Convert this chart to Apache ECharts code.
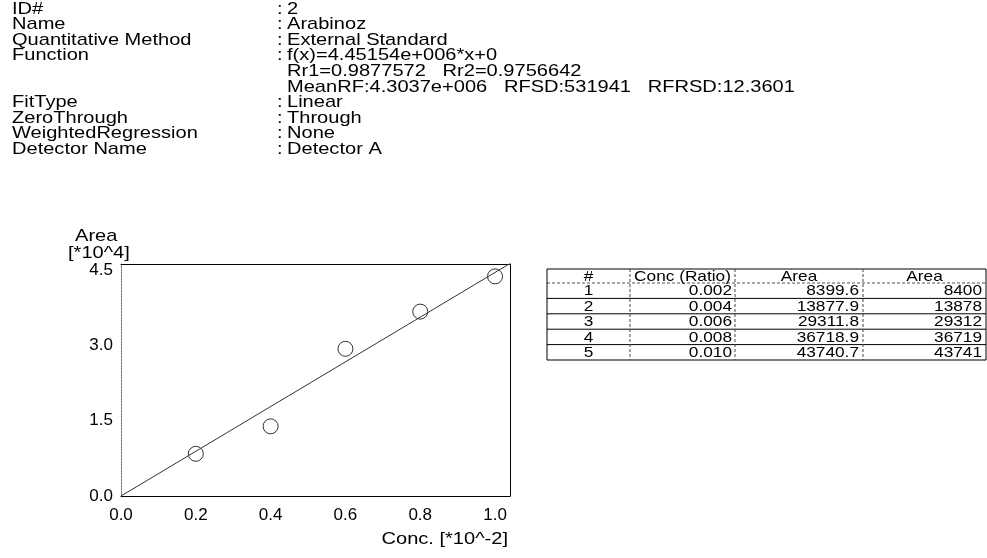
<!DOCTYPE html>
<html><head><meta charset="utf-8">
<script src="https://cdn.jsdelivr.net/npm/echarts@6/dist/echarts.min.js"></script>
<style>html,body{margin:0;padding:0;background:#fff}#c{width:987px;height:558px}</style>
</head><body><div id="c"></div>
<script>
// ---- header info ----
const infoLabels = ['ID#', 'Name', 'Quantitative Method', 'Function', '', '', 'FitType', 'ZeroThrough', 'WeightedRegression', 'Detector Name'];
const infoValues = ['2', 'Arabinoz', 'External Standard', 'f(x)=4.45154e+006*x+0', 'Rr1=0.9877572   Rr2=0.9756642', 'MeanRF:4.3037e+006   RFSD:531941   RFRSD:12.3601', 'Linear', 'Through', 'None', 'Detector A'];
const infoHasColon = [true, true, true, true, false, false, true, true, true, true];

// ---- calibration data ----
const concX = [0.2, 0.4, 0.6, 0.8, 1.0];               // Conc. [*10^-2]
const areaRaw = [8399.6, 13877.9, 29311.8, 36718.9, 43740.7];
const areaRounded = [8400, 13878, 29312, 36719, 43741];
const concRatio = ['0.002', '0.004', '0.006', '0.008', '0.010'];
const rowIds = ['1', '2', '3', '4', '5'];
const tableHeaders = ['#', 'Conc (Ratio)', 'Area', 'Area'];
// fit line f(x)=4.45154e+006*x (endpoints in chart units)
const fitX = [0, 1.04];
const fitY = [0, 4.63];
const xAxisMax = 1.04, yAxisMax = 4.62;
const xTickStep = 0.2, yTickStep = 1.5;

const FONT = '"Liberation Sans", Arial, sans-serif';
const chart = echarts.init(document.getElementById('c'), null, {renderer: 'canvas'});

const graphics = [];
function txt(x, y, text, size, sx, align) {
  graphics.push({
    type: 'text', x: x, y: y, scaleX: sx, silent: true,
    style: {text: text, font: size + 'px ' + FONT, fill: '#000',
      align: align || 'left', verticalAlign: 'middle', textAlign: align || 'left', textVerticalAlign: 'middle'}
  });
}
function line(x1, y1, x2, y2, dash, color) {
  graphics.push({
    type: 'line', silent: true,
    shape: {x1: x1, y1: y1, x2: x2, y2: y2},
    style: {stroke: color || '#000', lineWidth: 1, lineDash: dash ? [3, 2] : null}
  });
}

// header block
const hdrTop = 9, hdrStep = 15.6, HS = 17, HSX = 1.18;
infoLabels.forEach((t, i) => {
  const y = hdrTop + i * hdrStep;
  if (t) txt(12, y, t, HS, HSX);
  if (infoHasColon[i]) txt(277, y, ':', HS, HSX);
  txt(287, y, infoValues[i], HS, HSX);
});

// axis titles
txt(75, 236, 'Area', HS, HSX);
txt(68, 253, '[*10^4]', HS, HSX);
txt(508, 539, 'Conc. [*10^-2]', HS, HSX, 'right');

// table
const colX = [547, 630, 735, 863, 986];
const tTop = 269, tHead = 283, rowH = 15.4;
const nRows = rowIds.length;
const tBottom = tHead + nRows * rowH;
line(colX[0], tTop, colX[4], tTop);
line(colX[0], tHead, colX[4], tHead, true, '#555');
for (let r = 1; r <= nRows; r++) line(colX[0], tHead + r * rowH, colX[4], tHead + r * rowH);
line(colX[0], tTop, colX[0], tBottom);
line(colX[4], tTop, colX[4], tBottom);
for (let c = 1; c < 4; c++) line(colX[c], tTop, colX[c], tBottom, true, '#444');
const TS = 15, TSX = 1.15;
tableHeaders.forEach((h, c) => txt((colX[c] + colX[c + 1]) / 2, (tTop + tHead) / 2 + 0.5, h, TS, TSX, 'center'));
rowIds.forEach((id, r) => {
  const y = tHead + r * rowH + rowH / 2 + 0.5;
  txt((colX[0] + colX[1]) / 2, y, id, TS, TSX, 'center');
  txt(colX[2] - 3, y, concRatio[r], TS, TSX, 'right');
  txt(colX[3] - 4, y, areaRaw[r].toFixed(1), TS, TSX, 'right');
  txt(colX[4] - 4, y, String(areaRounded[r]), TS, TSX, 'right');
});

const scatterData = concX.map((x, i) => [x, areaRaw[i] / 1e4]);
const fitData = fitX.map((x, i) => [x, fitY[i]]);

const fmt = max => v => (Math.abs(v - max) < 1e-9 ? '' : v.toFixed(1));
chart.setOption({
  animation: false,
  backgroundColor: '#fff',
  grid: {left: 121, right: 477, top: 264, bottom: 62, containLabel: false},
  xAxis: [{
    type: 'value', min: 0, max: xAxisMax, interval: xTickStep, position: 'bottom',
    axisLine: {show: true, onZero: false, lineStyle: {color: '#000', width: 1}},
    axisTick: {show: false}, splitLine: {show: false},
    axisLabel: {color: '#000', fontSize: 17, fontFamily: FONT, margin: 11, showMaxLabel: false, formatter: fmt(xAxisMax)}
  }, {
    type: 'value', min: 0, max: xAxisMax, position: 'top',
    axisLine: {show: true, onZero: false, lineStyle: {color: '#000', width: 1}},
    axisTick: {show: false}, splitLine: {show: false}, axisLabel: {show: false}
  }],
  yAxis: [{
    type: 'value', min: 0, max: yAxisMax, interval: yTickStep, position: 'left',
    axisLine: {show: true, onZero: false, lineStyle: {color: '#777', width: 1, type: [2, 1]}},
    axisTick: {show: false}, splitLine: {show: false},
    axisLabel: {color: '#000', fontSize: 17, fontFamily: FONT, margin: 8, showMaxLabel: false, formatter: fmt(yAxisMax)}
  }, {
    type: 'value', min: 0, max: yAxisMax, position: 'right',
    axisLine: {show: true, onZero: false, lineStyle: {color: '#000', width: 1}},
    axisTick: {show: false}, splitLine: {show: false}, axisLabel: {show: false}
  }],
  series: [
    {type: 'line', data: fitData, symbol: 'none', clip: true, xAxisIndex: 0, yAxisIndex: 0,
      lineStyle: {color: '#333', width: 1}, silent: true},
    {type: 'scatter', data: scatterData, symbol: 'circle', symbolSize: 15, xAxisIndex: 0, yAxisIndex: 0,
      itemStyle: {color: 'rgba(0,0,0,0)', borderColor: '#000', borderWidth: 1}, silent: true}
  ],
  graphic: graphics
});
</script></body></html>
